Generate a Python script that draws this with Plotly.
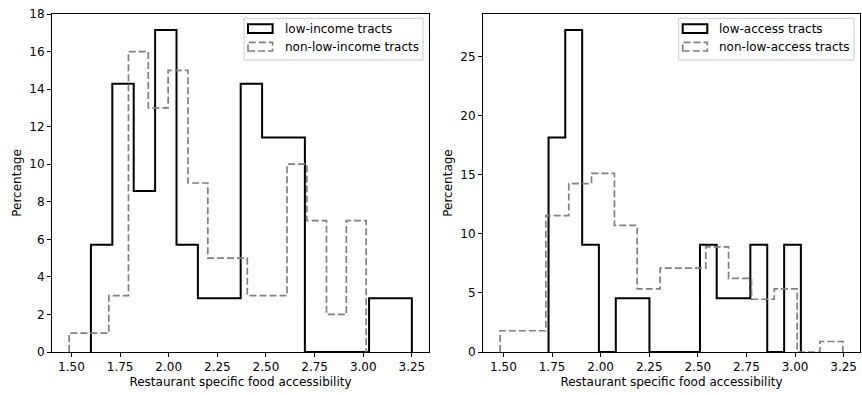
import numpy as np
import plotly.graph_objects as go

# ---------------- data ----------------
x_ticks = [1.50, 1.75, 2.00, 2.25, 2.50, 2.75, 3.00, 3.25]
x_tick_labels = ["1.50", "1.75", "2.00", "2.25", "2.50", "2.75", "3.00", "3.25"]
left_y_ticks = [0, 2, 4, 6, 8, 10, 12, 14, 16, 18]
right_y_ticks = [0, 5, 10, 15, 20, 25]

low_income_edges = [1.600, 1.710, 1.820, 1.930, 2.040, 2.150, 2.260, 2.370,
                    2.480, 2.590, 2.700, 2.810, 2.920, 3.030, 3.140, 3.250]
low_income_pct = [5.714, 14.286, 8.571, 17.143, 5.714, 2.857, 2.857, 14.286,
                  11.429, 11.429, 0, 0, 0, 2.857, 2.857]

non_low_income_edges = [1.488, 1.590, 1.692, 1.793, 1.895, 1.997, 2.099, 2.201,
                        2.302, 2.404, 2.506, 2.608, 2.710, 2.811, 2.913, 3.015]
non_low_income_pct = [1, 1, 3, 16, 13, 15, 9, 5, 5, 3, 3, 10, 7, 2, 7]

low_access_edges = [1.732, 1.818, 1.905, 1.991, 2.078, 2.164, 2.251, 2.338,
                    2.424, 2.511, 2.597, 2.684, 2.770, 2.857, 2.944, 3.030]
low_access_pct = [18.18, 27.27, 9.09, 0, 4.55, 4.55, 0, 0,
                  0, 9.09, 4.55, 4.55, 9.09, 0, 9.09]

non_low_access_edges = [1.483, 1.601, 1.718, 1.836, 1.953, 2.071, 2.188, 2.306,
                        2.423, 2.541, 2.658, 2.776, 2.893, 3.011, 3.128, 3.246]
non_low_access_pct = [1.80, 1.80, 11.56, 14.26, 15.14, 10.72, 5.34, 7.11,
                      7.11, 8.91, 6.24, 4.47, 5.34, 0, 0.89]

left_labels = ["low-income tracts", "non-low-income tracts"]
right_labels = ["low-access tracts", "non-low-access tracts"]
x_title = "Restaurant specific food accessibility"
y_title = "Percentage"

# ---------------- helpers ----------------
def step_path(edges, vals):
    e = np.asarray(edges, dtype=float)
    v = np.asarray(vals, dtype=float)
    xs = np.concatenate([[e[0]], np.repeat(e[1:-1], 2), [e[-1]]])
    ys = np.repeat(v, 2)
    xs = np.concatenate([[e[0]], xs, [e[-1]]])
    ys = np.concatenate([[0.0], ys, [0.0]])
    return xs, ys

W, H = 862, 395
ML, MR, MT, MB = 52, 2, 14, 43
PW = W - ML - MR
AX_W = 377
AX1_X0 = 52
AX2_X0 = 483
AX_Y0 = H - MB          # bottom pixel of axes
AX_H = H - MT - MB

BLACK_W = 2.0
GRAY_W = 1.7
GRAY = "#808080"
DASH = "7px,3px"
FONT = "DejaVu Sans"

fig = go.Figure()

def add_hist(edges, vals, xa, ya, color, width, dash):
    xs, ys = step_path(edges, vals)
    fig.add_trace(go.Scatter(x=xs, y=ys, mode="lines", xaxis=xa, yaxis=ya,
                             line=dict(color=color, width=width, dash=dash),
                             showlegend=False, hoverinfo="skip"))

add_hist(low_income_edges, low_income_pct, "x", "y", "black", BLACK_W, "solid")
add_hist(non_low_income_edges, non_low_income_pct, "x", "y", GRAY, GRAY_W, DASH)
add_hist(low_access_edges, low_access_pct, "x2", "y2", "black", BLACK_W, "solid")
add_hist(non_low_access_edges, non_low_access_pct, "x2", "y2", GRAY, GRAY_W, DASH)

axis_common = dict(showline=True, linecolor="black", linewidth=1, mirror=True,
                   ticks="outside", ticklen=4, tickwidth=1, tickcolor="black",
                   showgrid=False, zeroline=False,
                   tickfont=dict(family=FONT, size=12, color="black"))

def xaxis_def(domain):
    return dict(domain=domain, tickvals=x_ticks, ticktext=x_tick_labels,
                title=dict(text=x_title, font=dict(family=FONT, size=12, color="black"),
                           standoff=4),
                **axis_common)

def yaxis_def(anchor, ticks, rng):
    return dict(anchor=anchor, tickvals=ticks, range=rng,
                title=dict(text=y_title, font=dict(family=FONT, size=12, color="black"),
                           standoff=5),
                **axis_common)

d1 = [(AX1_X0 - ML) / PW, (AX1_X0 + AX_W - ML) / PW]
d2 = [(AX2_X0 - ML) / PW, (AX2_X0 + AX_W - ML) / PW]

left_ymax = max(low_income_pct) * 1.05 + 1e-4
right_ymax = max(low_access_pct) * 1.05
left_xmin = min(low_income_edges[0], non_low_income_edges[0])
left_xmax = max(low_income_edges[-1], non_low_income_edges[-1])
right_xmin = min(low_access_edges[0], non_low_access_edges[0])
right_xmax = max(low_access_edges[-1], non_low_access_edges[-1])
lm = 0.05 * (left_xmax - left_xmin)
rm = 0.05 * (right_xmax - right_xmin)

fig.update_layout(
    width=W, height=H,
    margin=dict(l=ML, r=MR, t=MT, b=MB, autoexpand=False),
    paper_bgcolor="white", plot_bgcolor="white",
    font=dict(family=FONT, size=12, color="black"),
    showlegend=False,
    xaxis=dict(anchor="y", range=[left_xmin - lm, left_xmax + lm], **xaxis_def(d1)),
    yaxis=yaxis_def("x", left_y_ticks, [0, left_ymax]),
    xaxis2=dict(anchor="y2", range=[right_xmin - rm, right_xmax + rm], **xaxis_def(d2)),
    yaxis2=yaxis_def("x2", right_y_ticks, [0, right_ymax]),
)

# ---------------- manual legends ----------------
def add_legend(ax_x0, xref, yref, labels, box_w):
    def dx(px):
        return (px - ax_x0) / AX_W
    def dy(py):
        return (AX_Y0 - py) / AX_H
    box_r = ax_x0 + AX_W - 6
    box_l = box_r - box_w
    box_t, box_b = 18.3, 60.0
    fig.add_shape(type="rect", xref=xref, yref=yref,
                  x0=dx(box_l), x1=dx(box_r), y0=dy(box_b), y1=dy(box_t),
                  line=dict(color="#cccccc", width=1),
                  fillcolor="rgba(255,255,255,0.8)", layer="above")
    patch_l = box_l + 4
    patch_r = patch_l + 24.6
    text_l = patch_l + 34.6
    centers = [28.6, 46.7]
    styles = [("black", BLACK_W, "solid"), (GRAY, GRAY_W, DASH)]
    for lab, cy, (col, wd, ds) in zip(labels, centers, styles):
        fig.add_shape(type="rect", xref=xref, yref=yref,
                      x0=dx(patch_l), x1=dx(patch_r), y0=dy(cy + 4.3), y1=dy(cy - 4.3),
                      line=dict(color=col, width=wd, dash=ds),
                      fillcolor="rgba(0,0,0,0)", layer="above")
        fig.add_annotation(xref=xref, yref=yref, x=dx(text_l), y=dy(cy),
                           text=lab, showarrow=False, xanchor="left", yanchor="middle",
                           font=dict(family=FONT, size=12, color="black"))

add_legend(AX1_X0, "x domain", "y domain", left_labels, 179)
add_legend(AX2_X0, "x2 domain", "y2 domain", right_labels, 175.3)

fig.write_html("out.html")
